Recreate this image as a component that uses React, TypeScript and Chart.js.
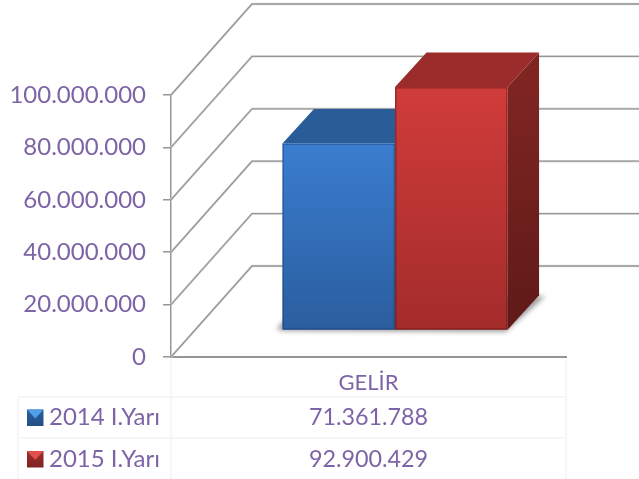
import React, { useEffect, useRef } from "react";
import { Chart, registerables } from "chart.js";

Chart.register(...registerables);

const categories = ["GELİR"];
const seriesNames = ["2014 I.Yarı", "2015 I.Yarı"];
const values2014 = [71361788];
const values2015 = [92900429];
const yMax = 100000000;
const yStep = 20000000;

const TEXT = "#7d64a6";
const GRID = "#969696";
const TABLE = "#f3f3f3";
const FONT = "Lato, 'Noto Sans', sans-serif";

const WALL_DX = 81;
const WALL_DY = -91;
const BAR_SHIFT_X = 26.5;
const BAR_SHIFT_Y = -26.5;
const DEPTH_X = 31.5;
const DEPTH_Y = -34.5;

const palette = [
  { top: "#3b7dd0", bottom: "#2a5e9e", cap: "#2a5d97", sideTop: "#24507f", sideBottom: "#1d4068", edge: "rgba(20,50,100,0.35)" },
  { top: "#d03c3a", bottom: "#a32c2b", cap: "#9a2d2b", sideTop: "#7e2522", sideBottom: "#5f1a18", edge: "rgba(90,20,20,0.45)" },
];

const fmt = (v: number) => String(v).replace(/\B(?=(\d{3})+(?!\d))/g, ".");

function poly(ctx: CanvasRenderingContext2D, pts: number[][], fill: any) {
  ctx.beginPath();
  pts.forEach(([x, y], i) => (i ? ctx.lineTo(x, y) : ctx.moveTo(x, y)));
  ctx.closePath();
  ctx.fillStyle = fill;
  ctx.fill();
}

const scene3d = {
  id: "scene3d",
  beforeDatasetsDraw(chart: any) {
    const { ctx, scales, chartArea } = chart;
    const y = scales.y;
    ctx.save();
    y.ticks.forEach((t: any) => {
      const py = y.getPixelForValue(t.value);
      ctx.beginPath();
      ctx.moveTo(chartArea.left, py);
      ctx.lineTo(chartArea.left + WALL_DX, py + WALL_DY);
      ctx.lineTo(chart.width, py + WALL_DY);
      ctx.strokeStyle = "#dddddd";
      ctx.lineWidth = 2.4;
      ctx.stroke();
      ctx.strokeStyle = GRID;
      ctx.lineWidth = 1.3;
      ctx.stroke();
    });
    const first = chart.getDatasetMeta(0).data[0];
    const last = chart.getDatasetMeta(1).data[0];
    const bx0 = first.x - first.width / 2 + BAR_SHIFT_X;
    const bx1 = last.x + last.width / 2 + BAR_SHIFT_X;
    const by = first.base + BAR_SHIFT_Y;
    ctx.save();
    ctx.filter = "blur(2.5px)";
    poly(ctx, [[bx0 - 6, by], [bx0 + 6, by + 1], [bx1 - 2, by + 2], [bx1 + DEPTH_X + 6, by + DEPTH_Y + 1], [bx0 + DEPTH_X - 9, by + DEPTH_Y]], "#999999");
    ctx.restore();
    [0, 1].forEach((i) => {
      const el = chart.getDatasetMeta(i).data[0];
      const p = palette[i];
      const x0 = el.x - el.width / 2 + BAR_SHIFT_X;
      const x1 = el.x + el.width / 2 + BAR_SHIFT_X;
      const top = el.y + BAR_SHIFT_Y;
      const base = el.base + BAR_SHIFT_Y;
      const g = ctx.createLinearGradient(0, top, 0, base);
      g.addColorStop(0, p.sideTop);
      g.addColorStop(1, p.sideBottom);
      poly(ctx, [[x1, top], [x1 + DEPTH_X, top + DEPTH_Y], [x1 + DEPTH_X, base + DEPTH_Y], [x1, base]], g);
      poly(ctx, [[x0, top], [x0 + DEPTH_X, top + DEPTH_Y], [x1 + DEPTH_X, top + DEPTH_Y], [x1, top]], p.cap);
    });
    ctx.restore();
    ctx.save();
    ctx.translate(BAR_SHIFT_X, BAR_SHIFT_Y);
  },
  afterDatasetsDraw(chart: any) {
    const { ctx } = chart;
    [0, 1].forEach((i) => {
      const el = chart.getDatasetMeta(i).data[0];
      ctx.strokeStyle = palette[i].edge;
      ctx.lineWidth = 1.5;
      ctx.strokeRect(el.x - el.width / 2 + 0.75, el.y + 0.75, el.width - 1.5, el.base - el.y - 1.5);
    });
    ctx.restore();
  },
  afterDraw(chart: any) {
    const { ctx, chartArea } = chart;
    const left = chartArea.left;
    const right = chartArea.right;
    const tableLeft = 18;
    const rows = [397, 438];
    ctx.save();
    ctx.strokeStyle = TABLE;
    ctx.lineWidth = 1.5;
    [[left, chartArea.bottom + 3, left, chart.height], [right, chartArea.bottom + 3, right, chart.height], [tableLeft, rows[0], tableLeft, chart.height], [tableLeft, rows[0], right, rows[0]], [tableLeft, rows[1], right, rows[1]]].forEach(([a, b, c, d]) => {
      ctx.beginPath();
      ctx.moveTo(a, b);
      ctx.lineTo(c, d);
      ctx.stroke();
    });
    const series = [values2014[0], values2015[0]];
    const centers = [417.5, 459];
    ctx.textBaseline = "middle";
    series.forEach((v, i) => {
      const cy = centers[i];
      const p = palette[i];
      const kx = 27, ky = cy - 8, ks = 16.5;
      const g = ctx.createLinearGradient(0, ky, 0, ky + ks);
      g.addColorStop(0, p.bottom);
      g.addColorStop(1, i ? "#7c2422" : "#234f86");
      ctx.fillStyle = g;
      ctx.fillRect(kx, ky, ks, ks);
      poly(ctx, [[kx, ky], [kx + ks, ky], [kx + ks / 2, ky + ks * 0.55]], i ? "#e0504e" : "#4f9fe6");
      ctx.fillStyle = TEXT;
      ctx.font = `24px ${FONT}`;
      ctx.textAlign = "left";
      ctx.fillText(seriesNames[i], 49, cy);
      ctx.font = `23.3px ${FONT}`;
      ctx.textAlign = "center";
      ctx.fillText(fmt(v), (left + right) / 2, cy);
    });
    ctx.restore();
  },
};

export default function App() {
  const ref = useRef<HTMLCanvasElement>(null);
  useEffect(() => {
    document.body.style.margin = "0";
    document.body.style.background = "#ffffff";
    const grad = (i: number) => (c: any) => {
      const chart = c.chart;
      const y = chart.scales.y;
      const v = i ? values2015[0] : values2014[0];
      const p0 = y ? y.getPixelForValue(v) : NaN;
      const p1 = y ? y.getPixelForValue(0) : NaN;
      if (!Number.isFinite(p0) || !Number.isFinite(p1)) return palette[i].top;
      const g = chart.ctx.createLinearGradient(0, p0, 0, p1);
      g.addColorStop(0, palette[i].top);
      g.addColorStop(1, palette[i].bottom);
      return g;
    };
    const chart = new Chart(ref.current!, {
      type: "bar",
      data: {
        labels: categories,
        datasets: [
          { label: seriesNames[0], data: values2014, backgroundColor: grad(0), clip: false, categoryPercentage: 0.57, barPercentage: 1 },
          { label: seriesNames[1], data: values2015, backgroundColor: grad(1), clip: false, categoryPercentage: 0.57, barPercentage: 1 },
        ] as any,
      },
      plugins: [scene3d],
      options: {
        animation: false,
        responsive: false,
        layout: { padding: { top: 95, right: 73, left: 0, bottom: 0 } },
        plugins: { legend: { display: false }, tooltip: { enabled: false } },
        scales: {
          x: {
            afterFit: (s: any) => { s.height = 122; },
            grid: { drawOnChartArea: false, drawTicks: false, color: "transparent" },
            border: { color: "#959595", width: 2 },
            ticks: { color: TEXT, font: { family: FONT, size: 22 }, padding: 13, maxRotation: 0 },
          },
          y: {
            min: 0,
            max: yMax,
            afterFit: (s: any) => { s.width = 171; },
            grid: { drawOnChartArea: false, tickLength: 8, color: "#959595", lineWidth: 1.5 },
            border: { color: "#959595", width: 1.5 },
            ticks: {
              stepSize: yStep,
              color: TEXT,
              font: { family: FONT, size: 24 },
              padding: 17,
              callback: (v: any) => fmt(Number(v)),
            },
          },
        },
      } as any,
    });
    return () => chart.destroy();
  }, []);
  return <canvas ref={ref} width={639} height={479} style={{ display: "block" }} />;
}
